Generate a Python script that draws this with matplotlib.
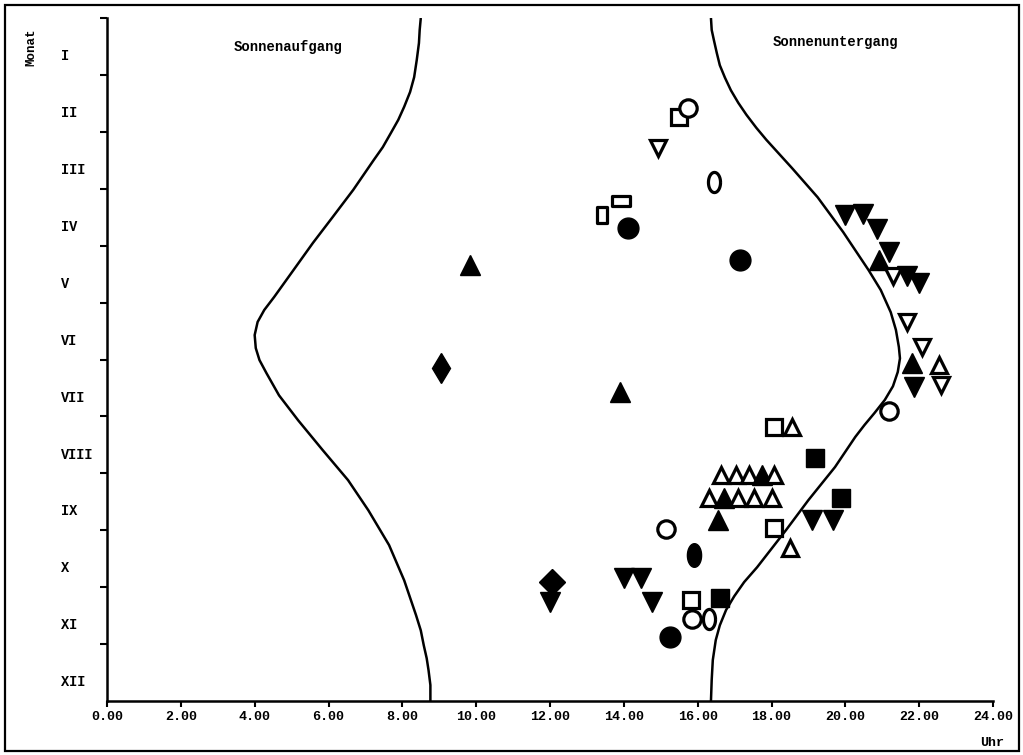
import numpy as np
import matplotlib
matplotlib.use("Agg")
import matplotlib.pyplot as plt
from matplotlib.path import Path
from matplotlib.patches import Rectangle

# ---------------- data ----------------
month_labels = ["I", "II", "III", "IV", "V", "VI", "VII", "VIII", "IX", "X", "XI", "XII"]
hour_ticks = list(range(0, 25, 2))
hour_tick_labels = [f"{h:.2f}" for h in hour_ticks]

# sunrise curve (month position 0 = 1 Jan, 12 = 31 Dec ; hour of day)
sunrise_month = [0.00, 0.21, 0.44, 0.74, 1.04, 1.30, 1.56, 1.79, 2.02, 2.27, 2.50, 3.02,
                 3.50, 3.95, 4.43, 4.90, 5.13, 5.34, 5.57, 5.80, 6.01, 6.24, 6.63,
                 7.07, 7.59, 8.12, 8.65, 9.26, 9.88, 10.49, 10.76, 11.02, 11.25,
                 11.46, 11.72, 12.00]
sunrise_hour = [8.50, 8.47, 8.45, 8.39, 8.32, 8.21, 8.05, 7.89, 7.69, 7.47, 7.22, 6.67,
                6.11, 5.58, 5.05, 4.53, 4.26, 4.08, 4.00, 4.03, 4.13, 4.32, 4.66,
                5.18, 5.84, 6.53, 7.08, 7.64, 8.05, 8.37, 8.50, 8.58, 8.66,
                8.71, 8.76, 8.76]

# sunset curve
sunset_month = [0.00, 0.21, 0.39, 0.62, 0.83, 1.05, 1.27, 1.49, 1.70, 1.93, 2.14, 2.64,
                3.15, 3.76, 4.43, 4.78, 5.17, 5.48, 5.78, 5.98, 6.22, 6.47, 6.71,
                6.94, 7.15, 7.36, 7.89, 8.47, 9.00, 9.65, 9.91, 10.16, 10.40,
                10.67, 10.93, 11.28, 11.63, 12.00]
sunset_hour = [16.36, 16.38, 16.44, 16.52, 16.60, 16.74, 16.90, 17.10, 17.32, 17.59, 17.86,
               18.56, 19.25, 19.94, 20.63, 20.96, 21.23, 21.37, 21.45, 21.48, 21.42,
               21.29, 21.07, 20.79, 20.52, 20.27, 19.72, 19.00, 18.39, 17.61, 17.26,
               16.99, 16.77, 16.60, 16.49, 16.41, 16.38, 16.36]

# observations
obs_kind = [
    "square_open", "circle_open", "tri_down_open", "ellipse_open", "rect_h_open",
    "rect_v_open", "circle_filled", "circle_filled", "tri_up_filled",
    "thin_diamond_filled", "tri_up_filled",
    "tri_down_filled", "tri_down_filled", "tri_down_filled", "tri_down_filled",
    "tri_up_filled", "tri_down_open", "tri_down_filled", "tri_down_filled",
    "tri_down_open", "tri_down_open", "tri_up_filled", "tri_up_open",
    "tri_down_filled", "tri_down_open", "circle_open",
    "square_open", "tri_up_open", "square_filled",
    "tri_up_open", "tri_up_open", "tri_up_open", "tri_up_filled", "tri_up_open",
    "tri_up_open", "tri_up_filled", "tri_up_open", "tri_up_open", "tri_up_open",
    "tri_up_filled", "square_filled", "tri_down_filled", "tri_down_filled",
    "square_open", "tri_up_open", "circle_open", "ellipse_filled",
    "diamond_filled", "tri_down_filled", "tri_down_filled", "tri_down_filled",
    "tri_down_filled", "square_open", "square_filled", "circle_open",
    "ellipse_open", "circle_filled",
]
obs_hour = [
    15.50, 15.75, 14.92, 16.44, 13.92,
    13.40, 14.11, 17.15, 9.84,
    9.05, 13.89,
    20.00, 20.47, 20.85, 21.18,
    20.90, 21.29, 21.67, 22.00,
    21.67, 22.08, 21.81, 22.55,
    21.86, 22.58, 21.18,
    18.06, 18.56, 19.17,
    16.63, 17.04, 17.40, 17.75, 18.08,
    16.30, 16.71, 17.10, 17.53, 18.00,
    16.55, 19.89, 19.11, 19.67,
    18.06, 18.50, 15.14, 15.89,
    12.05, 12.00, 14.00, 14.47,
    14.75, 15.81, 16.60, 15.86,
    16.30, 15.25,
]
obs_month = [
    1.74, 1.58, 2.28, 2.88, 3.22,
    3.46, 3.69, 4.25, 4.34,
    6.15, 6.57,
    3.46, 3.44, 3.71, 4.11,
    4.25, 4.53, 4.53, 4.66,
    5.34, 5.78, 6.06, 6.10,
    6.49, 6.45, 6.91,
    7.19, 7.19, 7.73,
    8.03, 8.03, 8.03, 8.03, 8.03,
    8.44, 8.44, 8.44, 8.44, 8.44,
    8.82, 8.44, 8.82, 8.82,
    8.96, 9.31, 8.98, 9.44,
    9.91, 10.26, 9.84, 9.84,
    10.26, 10.23, 10.19, 10.56,
    10.56, 10.88,
]

# ---------------- styling ----------------
plt.rcParams['font.family'] = ['Liberation Mono', 'DejaVu Sans Mono']
plt.rcParams['font.weight'] = 'bold'

t = np.linspace(0, 2 * np.pi, 61)
ellipse_path = Path(np.column_stack([0.6 * np.cos(t), np.sin(t)]))
rect_v_path = Path([(-0.62, -1), (0.62, -1), (0.62, 1), (-0.62, 1), (-0.62, -1)], closed=True)
rect_h_path = Path([(-1, -0.55), (1, -0.55), (1, 0.55), (-1, 0.55), (-1, -0.55)], closed=True)

styles = {
    "circle_filled": ("o", 15, True),
    "circle_open": ("o", 12.5, False),
    "square_filled": ("s", 12.5, True),
    "square_open": ("s", 12, False),
    "tri_up_filled": ("^", 14, True),
    "tri_up_open": ("^", 12, False),
    "tri_down_filled": ("v", 14, True),
    "tri_down_open": ("v", 12, False),
    "diamond_filled": ("D", 13, True),
    "thin_diamond_filled": ("d", 15, True),
    "ellipse_filled": (ellipse_path, 17, True),
    "ellipse_open": (ellipse_path, 14.5, False),
    "rect_v_open": (rect_v_path, 12, False),
    "rect_h_open": (rect_h_path, 13, False),
}

W, H = 1023, 755
fig = plt.figure(figsize=(W / 100, H / 100), dpi=100)
ax = fig.add_axes([107 / W, 1 - 701 / H, 886 / W, 683 / H])

ax.plot(sunrise_hour, sunrise_month, color="black", lw=1.8,
        solid_capstyle="butt", solid_joinstyle="round")
ax.plot(sunset_hour, sunset_month, color="black", lw=1.8,
        solid_capstyle="butt", solid_joinstyle="round")

for k, hx, my in zip(obs_kind, obs_hour, obs_month):
    m, ms, filled = styles[k]
    if filled:
        ax.plot([hx], [my], linestyle="none", marker=m, markersize=ms,
                markerfacecolor="black", markeredgecolor="black", markeredgewidth=1)
    else:
        ax.plot([hx], [my], linestyle="none", marker=m, markersize=ms,
                markerfacecolor="white", markeredgecolor="black", markeredgewidth=2.3)

ax.set_xlim(0, 24)
ax.set_ylim(12, 0)
ax.set_xticks(hour_ticks)
ax.set_xticklabels(hour_tick_labels, fontsize=9.6, fontweight="bold")
ax.set_yticks(range(0, 12))
ax.set_yticklabels([])
ax.tick_params(axis="x", direction="out", length=4, width=1.5, pad=3)
ax.tick_params(axis="y", direction="out", length=5, width=1.5)

for s in ("top", "right"):
    ax.spines[s].set_visible(False)
for s in ("left", "bottom"):
    ax.spines[s].set_linewidth(1.8)

ytrans = ax.get_yaxis_transform()
for i, lab in enumerate(month_labels):
    ax.text((61 - 107) / 886, i + 0.67, lab, transform=ytrans, ha="left", va="center",
            fontsize=9.8, fontweight="bold")

fig.text(31 / W, 1 - 47 / H, "Monat", rotation=90, ha="center", va="center",
         fontsize=9, fontweight="bold")
fig.text(1004 / W, 1 - 743 / H, "Uhr", ha="right", va="center", fontsize=9.6, fontweight="bold")
fig.text(288 / W, 1 - 47 / H, "Sonnenaufgang", ha="center", va="center",
         fontsize=10, fontweight="bold")
fig.text(836 / W, 1 - 42 / H, "Sonnenuntergang", ha="center", va="center",
         fontsize=10, fontweight="bold")

fig.patches.append(Rectangle((5 / W, 4 / H), 1014 / W, 746 / H, transform=fig.transFigure,
                             fill=False, edgecolor="black", linewidth=1.6))

fig.savefig("out.png", dpi=100)
